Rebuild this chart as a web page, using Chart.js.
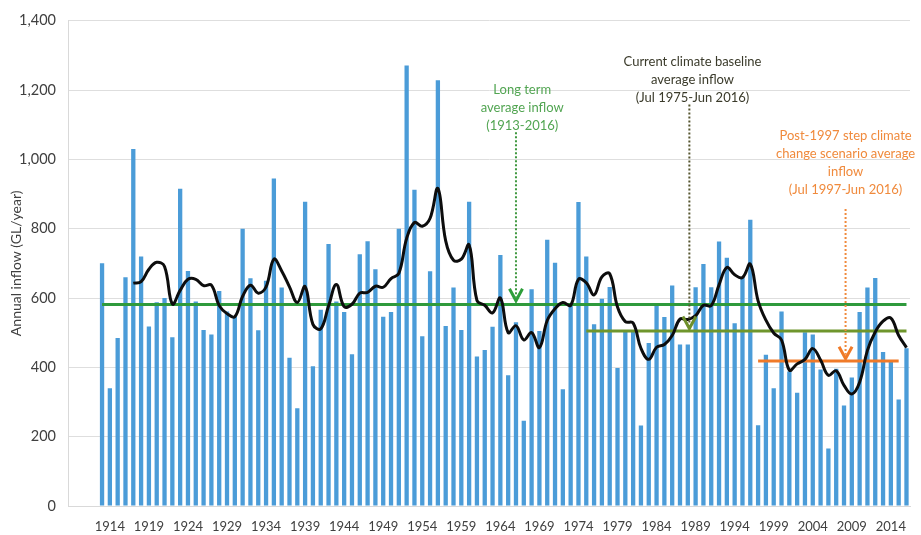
<!DOCTYPE html>
<html>
<head>
<meta charset="utf-8">
<script src="https://cdn.jsdelivr.net/npm/chart.js@4.4.0/dist/chart.umd.min.js"></script>
<style>
    body { margin: 0; background: #ffffff; }
    #wrap { width: 921px; height: 535px; }
</style>
</head>
<body>
<div id="wrap"><canvas id="inflowChart" width="921" height="535"></canvas></div>
<script>
// #### Data
const years = [
    1913, 1914, 1915, 1916, 1917, 1918, 1919, 1920, 1921, 1922, 1923, 1924, 1925, 1926, 1927,
    1928, 1929, 1930, 1931, 1932, 1933, 1934, 1935, 1936, 1937, 1938, 1939, 1940, 1941, 1942,
    1943, 1944, 1945, 1946, 1947, 1948, 1949, 1950, 1951, 1952, 1953, 1954, 1955, 1956, 1957,
    1958, 1959, 1960, 1961, 1962, 1963, 1964, 1965, 1966, 1967, 1968, 1969, 1970, 1971, 1972,
    1973, 1974, 1975, 1976, 1977, 1978, 1979, 1980, 1981, 1982, 1983, 1984, 1985, 1986, 1987,
    1988, 1989, 1990, 1991, 1992, 1993, 1994, 1995, 1996, 1997, 1998, 1999, 2000, 2001, 2002,
    2003, 2004, 2005, 2006, 2007, 2008, 2009, 2010, 2011, 2012, 2013, 2014, 2015, 2016
]

// annual inflow, GL/year
const annualInflow = [
    700, 340, 485, 660, 1030, 720, 518, 588, 600, 487, 915, 678, 590, 508, 495,
    620, 561, 547, 800, 657, 507, 650, 945, 630, 428, 282, 878, 403, 566, 756,
    590, 560, 438, 726, 764, 683, 546, 560, 800, 1271, 912, 490, 677, 1228, 519,
    630, 508, 878, 431, 450, 517, 724, 377, 530, 246, 625, 505, 768, 702, 337,
    585, 877, 720, 524, 598, 632, 398, 506, 507, 232, 470, 577, 545, 636, 466,
    466, 631, 698, 631, 763, 716, 527, 660, 826, 233, 436, 340, 561, 388, 327,
    501, 495, 394, 166, 396, 290, 371, 560, 630, 658, 444, 420, 307, 455
]

// black smoothed line (starts at the 5th year)
const fiveYearLine = [
    null, null, null, null, 643, 647, 683, 703, 691, 583, 622, 654, 654, 636, 637,
    578, 555, 546, 605, 637, 614, 632, 712, 678, 632, 587, 633, 524, 511, 577,
    639, 575, 582, 614, 616, 634, 631, 656, 671, 772, 818, 807, 830, 916, 765,
    709, 712, 753, 593, 579, 557, 600, 500, 520, 479, 500, 457, 535, 569, 587,
    579, 654, 644, 609, 661, 670, 574, 532, 528, 455, 423, 458, 466, 492, 539,
    538, 549, 579, 578, 638, 688, 667, 659, 698, 592, 536, 499, 479, 392, 410,
    423, 454, 421, 377, 390, 348, 323, 357, 449, 502, 533, 542, 492, 457
]

const longTermAvg = 581   // 1913-2016
const baselineAvg = 505   // Jul 1975-Jun 2016
const post1997Avg = 418   // Jul 1997-Jun 2016

const yTicks = [0, 200, 400, 600, 800, 1000, 1200, 1400]
const xTickYears = [1914, 1919, 1924, 1929, 1934, 1939, 1944, 1949, 1954, 1959, 1964, 1969,
    1974, 1979, 1984, 1989, 1994, 1999, 2004, 2009, 2014]

const notes = [
    {
        lines: ['Long term', 'average inflow', '(1913-2016)'],
        textColor: '#52a552', textX: 1966.8, textY: 1202,
        arrowX: 1966, arrowTop: 1078, arrowTip: 592,
        dotColor: '#3f983f', headColor: '#2e9e3a'
    },
    {
        lines: ['Current climate baseline', 'average inflow', '(Jul 1975-Jun 2016)'],
        textColor: '#3a3a2a', textX: 1988.6, textY: 1282,
        arrowX: 1988.2, arrowTop: 1158, arrowTip: 512,
        dotColor: '#55552f', headColor: '#6d8f2a'
    },
    {
        lines: ['Post-1997 step climate', 'change scenario average', 'inflow', '(Jul 1997-Jun 2016)'],
        textColor: '#f08a3c', textX: 2008.2, textY: 1067,
        arrowX: 2008.2, arrowTop: 857, arrowTip: 425,
        dotColor: '#f08a3c', headColor: '#f07a28'
    }
]

// #### Chart
Chart.defaults.font.family = 'Lato, "Open Sans", sans-serif'
Chart.defaults.color = '#404040'

function flatLine(value, from, to) {
    return [{ x: from, y: value }, { x: to, y: value }]
}

const notesPlugin = {
    id: 'notes',
    afterDatasetsDraw(chart) {
        const ctx = chart.ctx
        const xs = chart.scales.x
        const ys = chart.scales.y
        ctx.save()
        notes.forEach(note => {
            ctx.font = '13px Lato, "Open Sans", sans-serif'
            ctx.fillStyle = note.textColor
            ctx.textAlign = 'center'
            ctx.textBaseline = 'middle'
            const tx = xs.getPixelForValue(note.textX)
            const ty = ys.getPixelForValue(note.textY)
            note.lines.forEach((line, i) => ctx.fillText(line, tx, ty + i * 18))

            const ax = xs.getPixelForValue(note.arrowX)
            const top = ys.getPixelForValue(note.arrowTop)
            const tip = ys.getPixelForValue(note.arrowTip)
            ctx.strokeStyle = note.dotColor
            ctx.lineWidth = 2
            ctx.setLineDash([2, 2])
            ctx.beginPath()
            ctx.moveTo(ax, top)
            ctx.lineTo(ax, tip - 4)
            ctx.stroke()

            ctx.setLineDash([])
            ctx.strokeStyle = note.headColor
            ctx.lineWidth = 3
            ctx.beginPath()
            ctx.moveTo(ax - 6.5, tip - 12)
            ctx.lineTo(ax, tip)
            ctx.lineTo(ax + 6.5, tip - 12)
            ctx.stroke()
        })
        ctx.restore()
    }
}

const chart = new Chart(document.getElementById('inflowChart'), {
    type: 'bar',
    data: {
        datasets: [
            {
                type: 'line',
                label: 'Moving average',
                data: years.map((yr, i) => ({ x: yr, y: fiveYearLine[i] })).filter(p => p.y !== null),
                borderColor: '#0d0d0d',
                borderWidth: 3,
                pointRadius: 0,
                tension: 0.4,
                order: 0
            },
            {
                type: 'line',
                label: 'Long term average',
                data: flatLine(longTermAvg, 1913, 2016),
                borderColor: '#2f9a3c',
                borderWidth: 3,
                pointRadius: 0,
                order: 1
            },
            {
                type: 'line',
                label: 'Current baseline',
                data: flatLine(baselineAvg, 1975, 2016),
                borderColor: '#6f962c',
                borderWidth: 3,
                pointRadius: 0,
                order: 2
            },
            {
                type: 'line',
                label: 'Post-1997',
                data: flatLine(post1997Avg, 1997, 2015),
                borderColor: '#f07a28',
                borderWidth: 3,
                pointRadius: 0,
                order: 3
            },
            {
                label: 'Annual inflow',
                data: years.map((yr, i) => ({ x: yr, y: annualInflow[i] })),
                backgroundColor: '#4b9cd8',
                barPercentage: 0.55,
                categoryPercentage: 1,
                order: 4
            }
        ]
    },
    options: {
        responsive: false,
        animation: false,
        devicePixelRatio: 1,
        layout: { padding: { top: 19, right: 11, bottom: 0, left: 4 } },
        scales: {
            x: {
                type: 'linear',
                offset: false,
                min: 1908.64,
                max: 2016.45,
                grid: { display: false, drawTicks: false },
                border: { display: true, color: '#d9d9d9' },
                afterBuildTicks: scale => { scale.ticks = xTickYears.map(v => ({ value: v })) },
                afterFit: scale => { scale.height = 29 },
                ticks: {
                    autoSkip: false,
                    maxRotation: 0,
                    padding: 13,
                    font: { size: 13 },
                    callback: value => String(value)
                }
            },
            y: {
                min: 0,
                max: 1400,
                afterBuildTicks: scale => { scale.ticks = yTicks.map(v => ({ value: v })) },
                afterFit: scale => { scale.width = 64 },
                grid: { color: '#dedede', drawTicks: false },
                border: { display: true, color: '#d9d9d9' },
                ticks: {
                    padding: 12,
                    font: { size: 14.5 },
                    callback: value => value.toLocaleString('en-US')
                },
                title: {
                    display: true,
                    text: 'Annual inflow (GL/year)',
                    font: { size: 14 },
                    padding: { top: 4, bottom: 0 }
                }
            }
        },
        plugins: {
            legend: { display: false },
            tooltip: { enabled: false }
        }
    },
    plugins: [notesPlugin]
})
</script>
</body>
</html>
